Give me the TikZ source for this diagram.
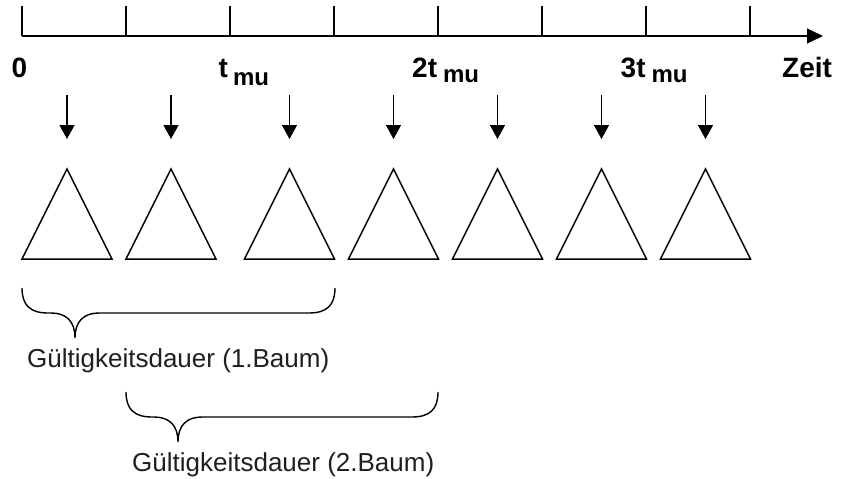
\documentclass[tikz,border=0pt]{standalone}
\usepackage{fontspec}
\setmainfont{Liberation Sans}
\usetikzlibrary{arrows.meta}
\newcommand{\mufont}{\fontsize{24}{26}\selectfont}
% curly brace opening upwards: left x, tip x, right x, top y
\newcommand{\spanbrace}[4]{%
  \draw[line] (#1,#4) .. controls (#1,{#4+17}) and ({#1+8},{#4+25}) .. ({#1+26},{#4+25})
    -- ({#2-24},{#4+25}) .. controls ({#2-9},{#4+25}) and (#2,{#4+33}) .. (#2,{#4+50})
    .. controls (#2,{#4+33}) and ({#2+9},{#4+25}) .. ({#2+24},{#4+25})
    -- ({#3-26},{#4+25}) .. controls ({#3-8},{#4+25}) and (#3,{#4+17}) .. (#3,#4);}
\begin{document}
\begin{tikzpicture}[x=1pt,y=-1pt,
  line/.style={line width=1.4pt},
  axislabel/.style={inner sep=0pt, anchor=base west, font=\bfseries\fontsize{28}{30}\selectfont},
  spanlabel/.style={inner sep=0pt, anchor=base west, font=\fontsize{26}{30}\selectfont, text=black!88},
  tree/.style={line width=1.5pt, line join=miter},
  feed/.style={line width=1.4pt, -{Triangle[length=14pt,width=15pt]}},
  timeaxis/.style={line width=1.4pt, -{Triangle[length=16pt,width=15pt]}}]
\useasboundingbox (0,0) rectangle (844,479);

% time axis with ticks
\coordinate (ax0) at (22,36);
\coordinate (ax1) at (823,36);
\draw[timeaxis] (ax0) -- (ax1);
\foreach \i in {0,...,7}
  \draw[line] ({22+104*\i},6) -- ({22+104*\i},36);

% axis labels
\node[axislabel] (lab0) at (11.5,77) {0};
\node[axislabel] (lab1) at (218.5,77) {t\hspace{5pt}\raisebox{-9pt}{\mufont mu}};
\node[axislabel] (lab2) at (412,77) {2t\hspace{6pt}\raisebox{-5pt}{\mufont mu}};
\node[axislabel] (lab3) at (620.5,77) {3t\hspace{6pt}\raisebox{-5pt}{\mufont mu}};
\node[axislabel] (lab4) at (782,77) {Zeit};

% trees with their feeding arrows
\foreach \n/\x in {1/67,2/171,3/289.5,4/393.5,5/497.5,6/601.5,7/705.5}{
  \coordinate (src\n) at (\x,95);
  \coordinate (dst\n) at (\x,139);
  \coordinate (top\n) at (\x,169);
  \draw[tree] (top\n) -- ({\x+45},259) -- ({\x-45},259) -- cycle;
  \draw[feed] (src\n) -- (dst\n);
}

% validity spans
\spanbrace{22}{75}{335}{288}
\node[spanlabel] (span1) at (27,367) {Gültigkeitsdauer (1.Baum)};
\spanbrace{126}{178}{438}{392}
\node[spanlabel] (span2) at (132,471) {Gültigkeitsdauer (2.Baum)};
\end{tikzpicture}
\end{document}
